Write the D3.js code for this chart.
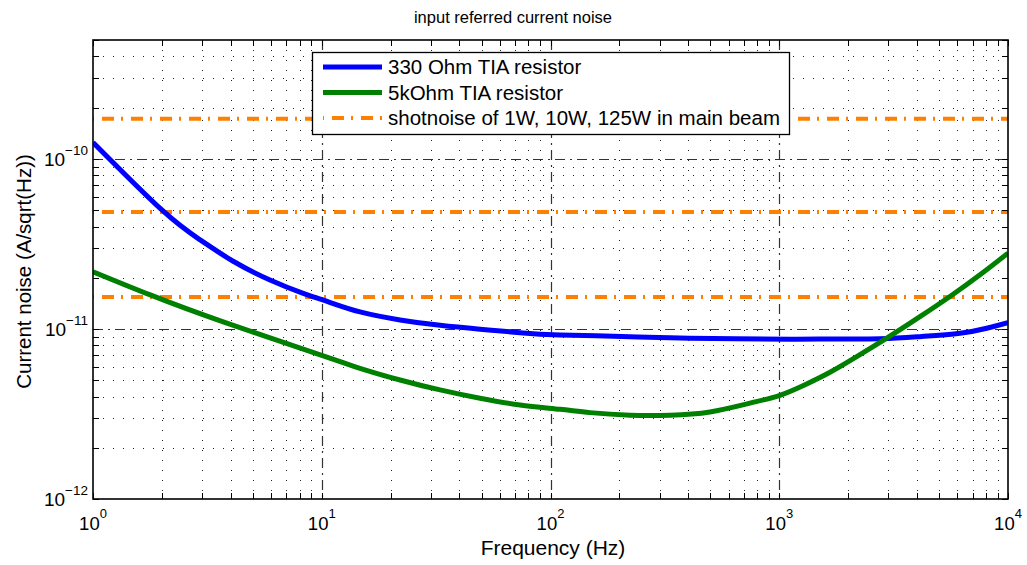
<!DOCTYPE html>
<html>
<head>
<meta charset="utf-8">
<script src="https://cdn.jsdelivr.net/npm/d3@7"></script>
<style>
  html, body { margin: 0; padding: 0; background: #fff; }
  svg { display: block; font-family: "Liberation Sans", Arial, Helvetica, sans-serif; }
</style>
</head>
<body>
<svg id="chart" width="1027" height="565"></svg>
<script>
// ---------- data ----------
const blueFreq  = [1, 2.0, 2.94, 4.10, 5.94, 8.30, 10.9, 14.7, 22.0, 32.9, 49.2, 73.6, 110, 223, 407, 1114, 1667, 2760, 4124, 6170, 8070, 10000];
const blueNoise = [1.25e-10, 5.01e-11, 3.34e-11, 2.50e-11, 1.94e-11, 1.62e-11, 1.43e-11, 1.26e-11, 1.13e-11, 1.05e-11, 9.96e-12, 9.51e-12, 9.22e-12, 9.01e-12, 8.82e-12, 8.70e-12, 8.73e-12, 8.75e-12, 9.01e-12, 9.44e-12, 1.01e-11, 1.09e-11];

const greenFreq  = [1, 1.78, 3.71, 10, 14.7, 22.0, 32.9, 49.2, 73.6, 110, 149, 223, 333, 498, 745, 1000, 1297, 1667, 2181, 2951, 4124, 5575, 7544, 10000];
const greenNoise = [2.17e-11, 1.585e-11, 1.10e-11, 7.0e-12, 5.87e-12, 5.01e-12, 4.38e-12, 3.91e-12, 3.57e-12, 3.37e-12, 3.22e-12, 3.11e-12, 3.11e-12, 3.25e-12, 3.66e-12, 4.06e-12, 4.70e-12, 5.56e-12, 6.87e-12, 8.82e-12, 1.18e-11, 1.55e-11, 2.08e-11, 2.79e-11];

const shotNoise = [1.54e-11, 4.87e-11, 1.72e-10];   // 1W, 10W, 125W

const seriesNames = ["330 Ohm TIA resistor", "5kOhm TIA resistor", "shotnoise of 1W, 10W, 125W in main beam"];

const xMajorTicks = [1, 10, 100, 1000, 10000];
const xTickExp    = ["0", "1", "2", "3", "4"];
const yMajorTicks = [1e-12, 1e-11, 1e-10];
const yTickExp    = ["\u221212", "\u221211", "\u221210"];

const titleText = "input referred current noise";
const xLabel = "Frequency (Hz)";
const yLabel = "Current noise (A/sqrt(Hz))";

// ---------- layout ----------
const L = 93, R = 1008, T = 40, B = 499;
const svg = d3.select("#chart");

const x = d3.scaleLog().domain([1, 1e4]).range([L, R]);
const y = d3.scaleLog().domain([1e-12, 5e-10]).range([B, T]);

const allX = x.ticks();
const allY = y.ticks();
const isMajorX = v => xMajorTicks.some(m => Math.abs(m - v) / m < 1e-6);
const isMajorY = v => yMajorTicks.some(m => Math.abs(m - v) / m < 1e-6);

// ---------- grid ----------
const grid = svg.append("g");
// minor dotted
grid.selectAll(".mx").data(allX.filter(v => !isMajorX(v) && v > 1 && v < 1e4)).enter()
  .append("line")
  .attr("x1", d => Math.round(x(d)) + 0.5).attr("x2", d => Math.round(x(d)) + 0.5)
  .attr("y1", T).attr("y2", B)
  .attr("stroke", "#222").attr("stroke-width", 1).attr("stroke-dasharray", "1,9");
grid.selectAll(".my").data(allY.filter(v => !isMajorY(v) && v < 5e-10)).enter()
  .append("line")
  .attr("y1", d => Math.round(y(d)) + 0.5).attr("y2", d => Math.round(y(d)) + 0.5)
  .attr("x1", L).attr("x2", R)
  .attr("stroke", "#222").attr("stroke-width", 1).attr("stroke-dasharray", "1,9");
// major dash-dot
grid.selectAll(".Mx").data(xMajorTicks.slice(1, -1)).enter()
  .append("line")
  .attr("x1", d => Math.round(x(d)) + 0.5).attr("x2", d => Math.round(x(d)) + 0.5)
  .attr("y1", T).attr("y2", B)
  .attr("stroke", "#333").attr("stroke-width", 1.2).attr("stroke-dasharray", "10,5,2,5");
grid.selectAll(".My").data(yMajorTicks.slice(1)).enter()
  .append("line")
  .attr("y1", d => Math.round(y(d)) + 0.5).attr("y2", d => Math.round(y(d)) + 0.5)
  .attr("x1", L).attr("x2", R)
  .attr("stroke", "#333").attr("stroke-width", 1.2).attr("stroke-dasharray", "10,5,2,5");

// ---------- data lines ----------
svg.append("clipPath").attr("id", "clip")
  .append("rect").attr("x", L).attr("y", T).attr("width", R - L).attr("height", B - T);
const plot = svg.append("g").attr("clip-path", "url(#clip)");

const orange = "#ff8000";
plot.selectAll(".shot").data(shotNoise).enter()
  .append("line")
  .attr("x1", x(1)).attr("x2", x(1e4))
  .attr("y1", d => y(d)).attr("y2", d => y(d))
  .attr("stroke", orange).attr("stroke-width", 4)
  .attr("stroke-dasharray", "12,7,2,8").attr("stroke-dashoffset", 20);

const line = d3.line().x(d => x(d[0])).y(d => y(d[1])).curve(d3.curveNatural);
plot.append("path").datum(blueFreq.map((f, i) => [f, blueNoise[i]]))
  .attr("d", line).attr("fill", "none").attr("stroke", "#0000ff").attr("stroke-width", 5);
plot.append("path").datum(greenFreq.map((f, i) => [f, greenNoise[i]]))
  .attr("d", line).attr("fill", "none").attr("stroke", "#008000").attr("stroke-width", 5);

// ---------- ticks (inside, all four sides) ----------
const tk = svg.append("g").attr("stroke", "#000").attr("stroke-width", 1);
const tl = 6;
allX.forEach(v => {
  const px = Math.round(x(v)) + 0.5;
  tk.append("line").attr("x1", px).attr("x2", px).attr("y1", B).attr("y2", B - tl);
  tk.append("line").attr("x1", px).attr("x2", px).attr("y1", T).attr("y2", T + tl);
});
allY.forEach(v => {
  const py = Math.round(y(v)) + 0.5;
  tk.append("line").attr("y1", py).attr("y2", py).attr("x1", L).attr("x2", L + tl);
  tk.append("line").attr("y1", py).attr("y2", py).attr("x1", R).attr("x2", R - tl);
});

// axis box
svg.append("rect").attr("x", L).attr("y", T).attr("width", R - L).attr("height", B - T)
  .attr("fill", "none").attr("stroke", "#000").attr("stroke-width", 1.6);

// ---------- tick labels ----------
const xl = svg.append("g").attr("font-size", 18.5).attr("fill", "#000");
xMajorTicks.forEach((v, i) => {
  const t = xl.append("text").attr("x", x(v)).attr("y", 530).attr("text-anchor", "middle");
  t.append("tspan").text("10");
  t.append("tspan").attr("font-size", 13).attr("dy", -12).text(xTickExp[i]);
});
const yl = svg.append("g").attr("font-size", 19).attr("fill", "#000");
yMajorTicks.forEach((v, i) => {
  const t = yl.append("text").attr("x", 88).attr("y", y(v) + 7).attr("text-anchor", "end");
  t.append("tspan").text("10");
  t.append("tspan").attr("font-size", 13.5).attr("dy", -11).text(yTickExp[i]);
});

// ---------- titles ----------
svg.append("text").attr("x", 513).attr("y", 23).attr("text-anchor", "middle")
  .attr("font-size", 16.5).text(titleText);
svg.append("text").attr("x", 553).attr("y", 555).attr("text-anchor", "middle")
  .attr("font-size", 21).text(xLabel);
svg.append("text").attr("transform", `translate(31,${(T + B) / 2 + 2}) rotate(-90)`)
  .attr("text-anchor", "middle").attr("font-size", 20.5).text(yLabel);

// ---------- legend ----------
const lg = svg.append("g");
lg.append("rect").attr("x", 312.5).attr("y", 52.5).attr("width", 477).attr("height", 82)
  .attr("fill", "#fff").attr("stroke", "#000").attr("stroke-width", 1.3);
const legStyles = [
  { color: "#0000ff", dash: null },
  { color: "#008000", dash: null },
  { color: orange, dash: "12,7,2,8" }
];
seriesNames.forEach((name, i) => {
  const cy = 67 + i * 25.5;
  const ln = lg.append("line").attr("x1", 323).attr("x2", 382).attr("y1", cy).attr("y2", cy)
    .attr("stroke", legStyles[i].color).attr("stroke-width", i === 2 ? 4 : 5);
  if (legStyles[i].dash) ln.attr("stroke-dasharray", legStyles[i].dash).attr("stroke-dashoffset", 20);
  lg.append("text").attr("x", 388).attr("y", cy + 7).attr("font-size", 20.5).text(name);
});
</script>
</body>
</html>
